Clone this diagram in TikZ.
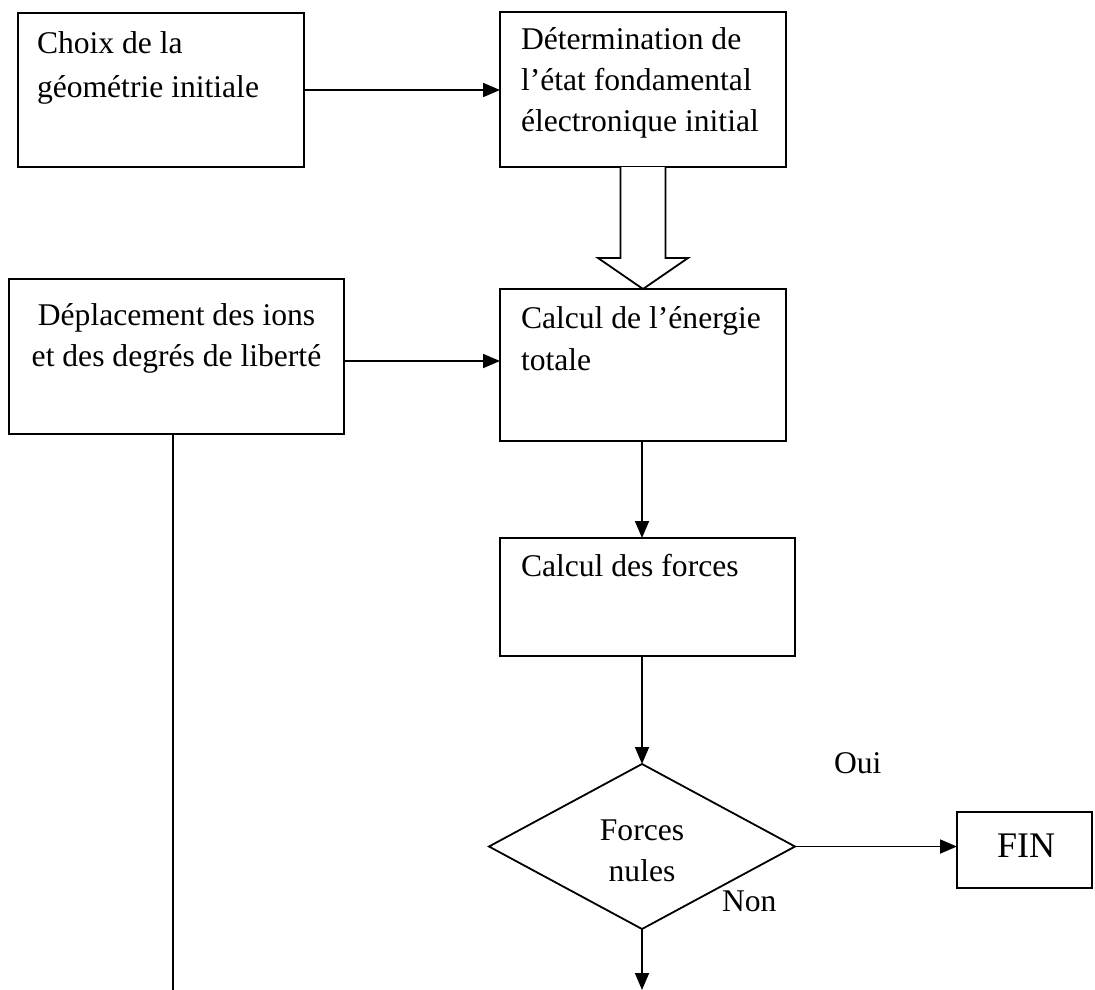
\documentclass[tikz,border=0pt]{standalone}
\usepackage{fontspec}
\setmainfont{Liberation Serif}
\usetikzlibrary{arrows.meta,shapes.geometric,calc}

\tikzset{
  frame/.style={draw, rectangle, line width=1.8pt, inner sep=0pt, outer sep=0pt},
  decision/.style={draw, diamond, line width=1.8pt, inner sep=0pt, outer sep=0pt},
  txt/.style={inner sep=0pt, outer sep=0pt, font=\fontsize{31.6}{38}\selectfont},
  bigtxt/.style={inner sep=0pt, outer sep=0pt, font=\fontsize{36}{42}\selectfont},
  link/.style={line width=1.8pt, -{Triangle[length=17pt,width=14pt]}},
  plainline/.style={line width=1.8pt},
  hollow/.style={draw, line width=1.8pt, fill=white, line join=miter},
}

\begin{document}
\begin{tikzpicture}[x=1pt,y=-1pt]
  \useasboundingbox (0,0) rectangle (1095,990);

  % boxes
  \node[frame, minimum width=286, minimum height=154] (choix) at (161,90) {};
  \node[frame, minimum width=286, minimum height=155] (etat) at (643,89.5) {};
  \node[frame, minimum width=335, minimum height=155] (depl) at (176.5,356.5) {};
  \node[frame, minimum width=286, minimum height=152] (energie) at (643,365) {};
  \node[frame, minimum width=295, minimum height=118] (forces) at (647.5,597) {};
  \node[decision, minimum width=306, minimum height=165] (test) at (642,846.5) {};
  \node[frame, minimum width=135, minimum height=76] (fin) at (1024.5,850) {};

  % box texts
  \node[txt, anchor=base west] (choixA) at (37,54) {Choix de la};
  \node[txt, anchor=base west] (choixB) at (37,97) {géométrie initiale};

  \node[txt, anchor=base west] (etatA) at (521,50) {Détermination de};
  \node[txt, anchor=base west] (etatB) at (521,90) {l’état fondamental};
  \node[txt, anchor=base west] (etatC) at (521,131) {électronique initial};

  \node[txt, anchor=base] (deplA) at (176.5,325) {Déplacement des ions};
  \node[txt, anchor=base] (deplB) at (176.5,366) {et des degrés de liberté};

  \node[txt, anchor=base west] (energieA) at (521,328) {Calcul de l’énergie};
  \node[txt, anchor=base west] (energieB) at (521,370) {totale};

  \node[txt, anchor=base west] (forcesA) at (521,576) {Calcul des forces};

  \node[txt, anchor=base] (testA) at (642,840) {Forces};
  \node[txt, anchor=base] (testB) at (642,881) {nules};

  \node[bigtxt, anchor=base] (finA) at (1026,857) {FIN};

  \node[txt, anchor=base west] (oui) at (834,773) {Oui};
  \node[txt, anchor=base west] (non) at (722,911) {Non};

  % free ends at the lower edge
  \coordinate (suite) at (642,990);
  \coordinate (retour) at (173,990);

  % connectors
  \draw[link] (choix.east) -- (choix.east -| etat.west);
  \draw[link] ([yshift=-4.5pt]depl.east) -- ([yshift=-4.5pt]depl.east -| energie.west);
  \draw[link] (test.north |- energie.south) -- (test.north |- forces.north);
  \draw[link] (test.north |- forces.south) -- (test.north);
  \draw[link] (test.east) -- (test.east -| fin.west);
  \draw[link] (test.south) -- (suite);
  \draw[plainline] (retour |- depl.south) -- (retour);

  % hollow block arrow between the first two computation steps
  \draw[hollow]
    ($(etat.south)+(-22.5,0)$) -- ($(etat.south)+(-22.5,91)$)
    -- ($(etat.south)+(-45,91)$) -- (energie.north)
    -- ($(etat.south)+(45,91)$) -- ($(etat.south)+(22.5,91)$)
    -- ($(etat.south)+(22.5,0)$);
\end{tikzpicture}
\end{document}
